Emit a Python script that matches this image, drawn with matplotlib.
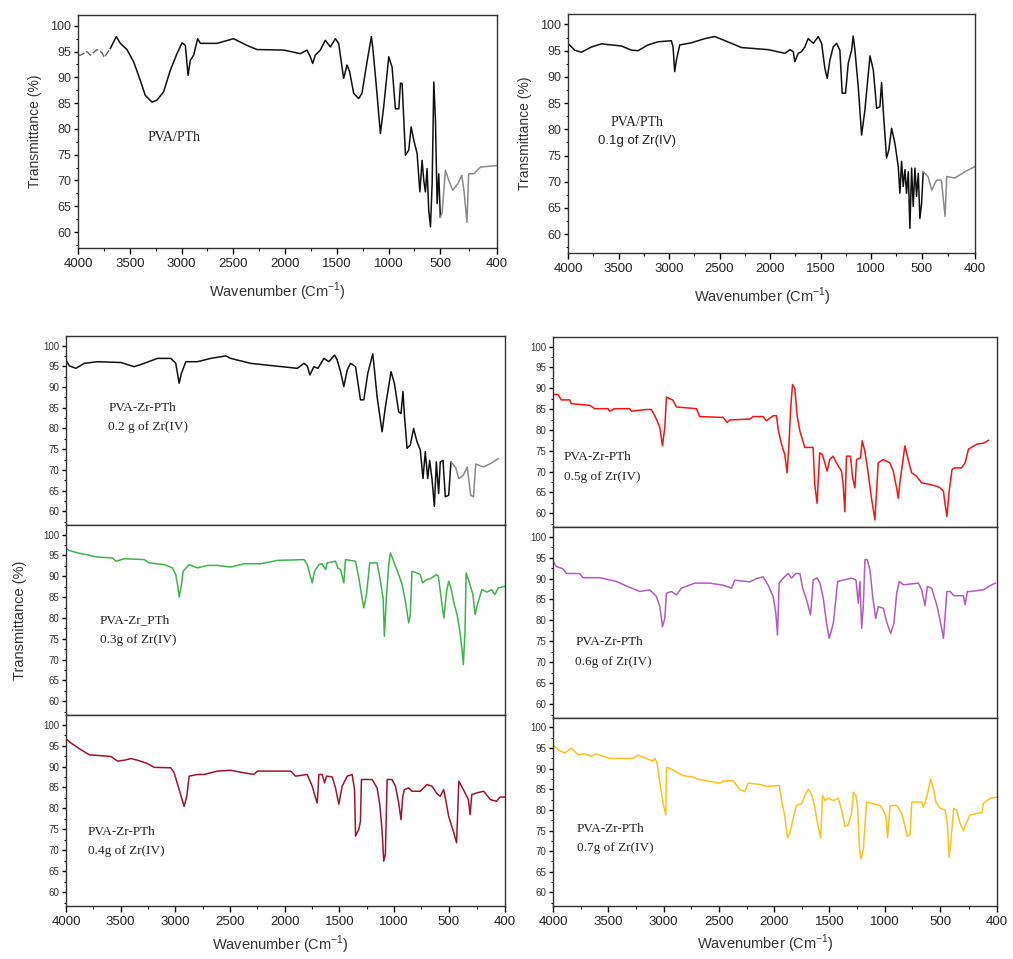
import numpy as np
import matplotlib
matplotlib.use('Agg')
import matplotlib.pyplot as plt
from matplotlib.ticker import FixedLocator, MultipleLocator

# ---- spectra (wavenumber cm-1, transmittance %) ----
pth_wn = [4000, 3977, 3913, 3881, 3817, 3768, 3746, 3688, 3630, 3591, 3527, 3462, 3398, 3350, 3285, 3237,
          3173, 3108, 3044, 2995, 2963, 2937, 2915, 2883, 2844, 2818, 2657, 2497, 2368, 2271, 2013, 1852,
          1788, 1756, 1733, 1708, 1659, 1611, 1562, 1514, 1482, 1434, 1401, 1376, 1337, 1289, 1257, 1208,
          1166, 1150, 1112, 1079, 1047, 998, 966, 934, 901, 885, 869, 837, 805, 782, 756, 724, 698, 676,
          660, 644, 628, 612, 595, 579, 563, 547, 531, 515, 500, 497, 491, 485, 478, 469, 462, 458, 453,
          450, 441, 429, 400]
pth_t = [94.3, 94.3, 95.0, 94.3, 95.4, 94.8, 93.9, 95.6, 97.9, 96.6, 95.4, 93.0, 89.4, 86.5, 85.2, 85.6,
         87.2, 91.4, 94.6, 96.7, 96.2, 90.4, 93.3, 94.3, 97.5, 96.6, 96.6, 97.5, 96.2, 95.4, 95.3, 94.6,
         95.3, 94.0, 92.7, 94.3, 95.3, 97.2, 95.9, 97.5, 96.6, 89.8, 92.4, 91.1, 86.9, 85.9, 86.9, 93.0,
         97.9, 95.3, 86.9, 79.1, 84.3, 94.0, 92.0, 83.9, 83.9, 88.9, 88.8, 74.9, 75.9, 80.4, 77.8, 75.2,
         67.8, 73.9, 70.0, 67.8, 72.3, 64.2, 61.0, 69.4, 89.1, 81.7, 65.5, 71.3, 62.9, 63.6, 72.0, 70.0,
         68.1, 69.4, 71.0, 67.8, 61.9, 71.3, 71.3, 72.6, 72.9]

zr01_wn = [4000, 3934, 3868, 3769, 3670, 3472, 3373, 3307, 3208, 3109, 2977, 2960, 2944, 2927, 2894, 2779,
           2646, 2547, 2382, 2283, 2019, 1853, 1803, 1770, 1755, 1721, 1689, 1656, 1623, 1572, 1523, 1490,
           1457, 1434, 1408, 1375, 1342, 1309, 1286, 1253, 1226, 1193, 1177, 1160, 1127, 1094, 1061, 1011,
           978, 945, 913, 896, 880, 847, 824, 797, 764, 731, 715, 698, 682, 665, 649, 632, 616, 599, 583,
           566, 550, 533, 517, 500, 497, 488, 481, 472, 463, 456, 453, 438, 419, 400]
zr01_t = [96.4, 95.1, 94.7, 95.7, 96.3, 95.9, 95.1, 95.0, 96.1, 96.7, 96.9, 95.7, 91.0, 93.2, 96.1, 96.5,
          97.3, 97.7, 96.4, 95.6, 95.2, 94.5, 95.2, 94.8, 92.9, 94.5, 94.8, 95.7, 97.3, 96.4, 97.7, 96.4,
          91.6, 89.7, 93.2, 95.7, 96.4, 95.1, 86.9, 86.9, 92.6, 95.1, 97.8, 95.1, 88.1, 78.9, 83.7, 94.0,
          91.3, 84.0, 84.3, 88.9, 83.7, 74.5, 76.1, 80.2, 77.3, 72.9, 67.8, 73.9, 69.1, 72.3, 67.8, 71.9,
          61.1, 72.6, 65.3, 72.6, 67.2, 71.6, 63.0, 65.9, 71.9, 71.0, 68.4, 70.3, 70.3, 63.4, 71.0, 70.7,
          71.9, 72.9]

zr02_wn = [4000, 3970, 3909, 3833, 3711, 3498, 3376, 3285, 3163, 3041, 2996, 2965, 2944, 2904, 2798, 2676,
           2539, 2494, 2311, 1885, 1824, 1794, 1769, 1733, 1696, 1641, 1596, 1544, 1520, 1489, 1459, 1428,
           1398, 1352, 1307, 1276, 1240, 1194, 1179, 1155, 1109, 1079, 1027, 997, 957, 936, 918, 906, 881,
           851, 821, 790, 760, 735, 714, 692, 674, 653, 631, 613, 592, 577, 552, 531, 500, 496, 488, 482,
           474, 467, 461, 456, 452, 438, 426, 412]
zr02_t = [96.5, 95.1, 94.5, 95.7, 96.1, 95.9, 94.9, 95.7, 96.9, 96.9, 95.7, 90.9, 93.3, 96.1, 96.1, 96.9,
          97.5, 96.9, 95.7, 94.5, 95.7, 95.1, 92.9, 94.9, 94.5, 96.9, 96.1, 97.7, 96.5, 93.7, 90.1, 94.1,
          95.7, 94.9, 86.9, 86.9, 93.3, 98.0, 94.1, 87.7, 79.2, 85.2, 93.7, 90.9, 84.0, 83.6, 88.9, 83.6,
          75.2, 76.0, 80.0, 76.8, 74.8, 67.9, 74.4, 67.9, 72.3, 67.9, 61.2, 71.9, 64.3, 71.9, 72.3, 63.5,
          63.9, 71.9, 70.7, 67.9, 68.7, 70.7, 63.9, 63.5, 71.4, 70.7, 71.5, 72.7]

zr03_wn = [4000, 3970, 3893, 3817, 3711, 3574, 3543, 3467, 3285, 3239, 3102, 3026, 2996, 2980, 2965, 2944,
           2929, 2874, 2798, 2707, 2615, 2494, 2372, 2220, 2067, 1824, 1794, 1769, 1748, 1727, 1687, 1657,
           1626, 1611, 1535, 1514, 1489, 1459, 1444, 1352, 1322, 1292, 1276, 1252, 1222, 1155, 1124, 1100,
           1088, 1070, 1048, 1033, 1003, 957, 926, 896, 866, 851, 836, 790, 760, 738, 702, 671, 610, 595,
           565, 544, 519, 500, 496, 490, 485, 481, 476, 474, 471, 469, 463, 457, 453, 449, 441, 432, 424,
           418, 412, 400]
zr03_t = [96.6, 96.2, 95.6, 95.2, 94.6, 94.4, 93.6, 94.2, 94.0, 93.2, 92.8, 92.0, 90.4, 88.0, 85.0, 88.0,
          91.2, 92.8, 92.0, 92.6, 92.6, 92.2, 93.0, 93.0, 93.8, 94.0, 92.8, 90.4, 88.4, 91.2, 92.8, 93.0,
          91.6, 93.2, 93.6, 92.0, 91.6, 88.4, 94.0, 93.6, 89.6, 84.8, 82.4, 85.6, 93.2, 93.2, 88.8, 84.8,
          75.6, 84.8, 92.8, 95.6, 93.6, 90.4, 88.0, 84.0, 78.8, 80.8, 91.2, 90.8, 90.4, 88.4, 89.2, 89.4,
          90.4, 90.0, 84.0, 80.0, 86.4, 88.8, 87.2, 83.2, 80.8, 77.6, 72.0, 68.8, 76.8, 90.8, 88.4, 85.6,
          80.8, 83.2, 86.8, 86.2, 86.8, 85.6, 87.2, 87.6]

zr04_wn = [4000, 3954, 3863, 3787, 3589, 3528, 3467, 3407, 3346, 3254, 3194, 3041, 3011, 2965, 2920, 2895,
           2874, 2798, 2737, 2615, 2494, 2372, 2281, 2250, 1946, 1900, 1794, 1748, 1718, 1702, 1687, 1657,
           1635, 1617, 1565, 1535, 1505, 1474, 1428, 1383, 1361, 1352, 1322, 1307, 1298, 1200, 1155, 1130,
           1109, 1094, 1079, 1063, 1018, 987, 957, 936, 920, 905, 866, 836, 760, 699, 653, 607, 577, 546,
           522, 500, 491, 486, 482, 474, 465, 462, 459, 450, 438, 426, 415, 409, 400]
zr04_t = [96.6, 95.6, 94.0, 92.8, 92.4, 91.3, 91.5, 91.9, 91.5, 90.7, 89.8, 89.7, 88.5, 84.5, 80.5, 82.9,
          87.7, 88.1, 88.1, 88.9, 89.1, 88.5, 88.1, 88.9, 88.9, 87.7, 88.1, 85.3, 82.5, 81.3, 88.1, 88.1,
          86.1, 87.7, 87.5, 84.9, 81.0, 85.3, 87.7, 88.1, 84.5, 73.4, 75.0, 77.0, 86.9, 86.9, 84.9, 80.9,
          74.6, 67.4, 69.0, 86.9, 86.9, 85.3, 81.3, 77.3, 82.9, 84.5, 84.9, 84.1, 84.1, 85.7, 85.3, 83.5,
          82.9, 84.5, 81.3, 78.1, 74.2, 71.8, 86.5, 84.5, 82.1, 78.5, 83.3, 83.7, 84.1, 82.1, 81.7, 82.7,
          82.7]

zr05_wn = [4000, 3955, 3925, 3849, 3834, 3668, 3623, 3502, 3487, 3442, 3306, 3291, 3155, 3110, 3065, 3034,
           3010, 2989, 2974, 2914, 2884, 2703, 2673, 2462, 2426, 2402, 2220, 2190, 2100, 2070, 2009, 1979,
           1964, 1934, 1904, 1883, 1868, 1850, 1834, 1813, 1792, 1768, 1723, 1648, 1633, 1612, 1588, 1564,
           1542, 1521, 1497, 1467, 1437, 1391, 1376, 1361, 1346, 1310, 1292, 1270, 1255, 1219, 1204, 1180,
           1150, 1120, 1089, 1059, 1014, 954, 923, 893, 878, 863, 818, 788, 757, 712, 667, 607, 531, 500,
           494, 491, 488, 484, 479, 474, 462, 456, 450, 435, 424, 415]
zr05_t = [88.5, 88.5, 87.2, 87.2, 86.3, 85.9, 85.1, 85.1, 84.5, 85.1, 85.1, 84.5, 84.9, 84.9, 82.6, 80.6,
          76.2, 80.6, 87.9, 87.1, 85.5, 85.1, 83.2, 83.0, 81.8, 82.4, 82.6, 83.2, 83.2, 82.2, 83.4, 83.4,
          80.2, 76.6, 74.1, 69.7, 75.8, 85.5, 90.9, 89.9, 83.4, 79.8, 75.8, 75.8, 66.9, 62.4, 74.5, 74.1,
          72.1, 70.1, 72.9, 73.7, 72.1, 70.1, 66.9, 60.4, 73.7, 73.7, 68.7, 66.1, 72.9, 73.3, 77.4, 74.9,
          69.7, 63.6, 58.4, 72.1, 72.9, 72.1, 70.1, 66.1, 63.6, 67.3, 76.2, 72.9, 69.7, 68.9, 67.3, 67.0,
          66.5, 66.1, 65.3, 62.0, 59.2, 65.3, 70.5, 70.9, 70.9, 72.1, 75.4, 76.6, 76.8, 77.5]

zr06_wn = [4000, 3970, 3910, 3879, 3759, 3729, 3578, 3427, 3352, 3216, 3125, 3065, 3034, 3010, 2989, 2974,
           2929, 2884, 2838, 2718, 2582, 2462, 2386, 2356, 2220, 2160, 2099, 2054, 2009, 1985, 1970, 1955,
           1918, 1873, 1843, 1803, 1767, 1743, 1707, 1671, 1647, 1610, 1586, 1556, 1526, 1502, 1465, 1426,
           1299, 1260, 1239, 1224, 1209, 1194, 1179, 1158, 1134, 1109, 1082, 1058, 1013, 983, 947, 917,
           892, 868, 832, 696, 666, 636, 615, 576, 530, 500, 494, 488, 482, 476, 459, 456, 452, 447, 424,
           409, 403]
zr06_t = [94.1, 92.9, 92.3, 91.2, 91.2, 90.2, 90.2, 89.3, 88.4, 86.9, 87.3, 85.7, 83.3, 78.5, 80.5, 86.5,
          86.9, 86.1, 87.7, 88.9, 88.9, 88.4, 87.7, 89.6, 89.2, 90.0, 90.4, 88.4, 85.7, 81.7, 76.5, 88.9,
          90.1, 91.2, 90.1, 91.2, 91.2, 87.7, 84.9, 81.3, 89.7, 90.1, 88.9, 85.3, 79.3, 75.7, 79.3, 89.3,
          90.1, 89.6, 84.1, 89.3, 78.1, 83.3, 94.5, 94.5, 92.1, 85.7, 80.5, 83.3, 82.9, 79.7, 76.9, 79.3,
          86.5, 89.3, 88.5, 88.9, 87.3, 83.5, 88.1, 87.7, 83.7, 80.1, 75.7, 86.9, 86.9, 85.9, 85.9, 83.7,
          86.9, 86.9, 87.3, 88.5, 88.9]

zr07_wn = [4000, 3955, 3894, 3834, 3774, 3713, 3653, 3608, 3487, 3276, 3231, 3095, 3080, 3059, 3034, 3004,
           2980, 2974, 2944, 2823, 2718, 2702, 2491, 2461, 2371, 2310, 2265, 2235, 2129, 2069, 1954, 1933,
           1903, 1879, 1858, 1828, 1798, 1752, 1722, 1692, 1662, 1632, 1601, 1580, 1562, 1541, 1511, 1465,
           1420, 1390, 1360, 1330, 1300, 1284, 1260, 1245, 1230, 1215, 1194, 1164, 1103, 1043, 1013, 989,
           974, 952, 892, 847, 817, 796, 771, 756, 666, 651, 621, 584, 560, 536, 500, 491, 487, 484, 482,
           476, 471, 465, 459, 453, 447, 426, 424, 412, 400]
zr07_t = [95.8, 94.6, 93.8, 95.0, 93.4, 93.6, 93.0, 93.6, 92.5, 92.5, 93.3, 91.8, 92.5, 91.4, 86.7, 81.5,
          78.8, 90.3, 90.1, 88.3, 87.9, 87.5, 86.5, 87.0, 87.1, 84.9, 84.5, 86.5, 86.2, 85.7, 85.9, 82.3,
          78.4, 73.2, 74.4, 77.9, 81.1, 81.5, 83.5, 85.0, 83.8, 80.6, 75.8, 73.2, 83.5, 82.3, 82.8, 82.3,
          82.8, 80.0, 76.0, 76.4, 79.2, 84.3, 83.5, 80.7, 71.2, 68.1, 70.4, 81.9, 81.5, 81.1, 79.9, 78.4,
          73.2, 81.1, 81.1, 79.2, 76.0, 73.6, 74.0, 81.9, 81.9, 80.7, 83.0, 87.5, 85.1, 81.9, 80.4, 80.0,
          76.4, 68.5, 70.9, 80.4, 80.0, 76.8, 74.9, 77.2, 78.8, 79.4, 81.6, 82.8, 83.1]

x_ticks = [4000, 3500, 3000, 2500, 2000, 1500, 1000, 500, 400]
x_minor = [3750, 3250, 2750, 2250, 1750, 1250, 750, 450]
y_ticks = [60, 65, 70, 75, 80, 85, 90, 95, 100]

SANS = 'Liberation Sans'
SERIF = 'Liberation Serif'
XLABEL = 'Wavenumber (Cm$^{\\mathregular{-1}}$)'


def wn_axis(ax, tail, labels=True, size=9):
    # stretched 500-400 segment like the original instrument plot
    def fwd(x):
        x = np.asarray(x, dtype=float)
        return np.where(x >= 500, tail + (x - 500) / 500.0, (x - 400) / 100.0 * tail)

    def inv(p):
        p = np.asarray(p, dtype=float)
        return np.where(p >= tail, 500 + (p - tail) * 500.0, 400 + p / tail * 100.0)

    ax.set_xscale('function', functions=(fwd, inv))
    ax.set_xlim(4000, 400)
    ax.xaxis.set_major_locator(FixedLocator(x_ticks))
    ax.xaxis.set_minor_locator(FixedLocator(x_minor))
    if labels:
        ax.set_xticklabels([str(v) for v in x_ticks], fontsize=size, family=SANS, color='#222222')
        ax.tick_params(axis='x', which='major', direction='out', length=4, width=1, pad=3)
        ax.tick_params(axis='x', which='minor', direction='out', length=2.5, width=0.8)
    else:
        ax.tick_params(axis='x', which='both', length=0, labelbottom=False)


def t_axis(ax, lo, hi, size):
    ax.set_ylim(lo, hi)
    ax.yaxis.set_major_locator(FixedLocator(y_ticks))
    ax.yaxis.set_minor_locator(MultipleLocator(2.5))
    ax.set_yticklabels([str(v) for v in y_ticks], fontsize=size, family=SANS, color='#333333')
    ax.tick_params(axis='y', which='major', direction='out', length=3, width=1, pad=2)
    ax.tick_params(axis='y', which='minor', direction='out', length=1.8, width=0.8)
    for s in ax.spines.values():
        s.set_linewidth(1.0)
        s.set_color('#333333')


def draw(ax, wn, t, color, cut=None, tail_color=None, head=None, head_color=None):
    wn = np.array(wn)
    t = np.array(t)
    lo = cut if cut is not None else -1
    hi = head if head is not None else 1e9
    m = (wn >= lo) & (wn <= hi)
    ax.plot(wn[m], t[m], color=color, lw=1.1)
    if cut is not None:
        m = wn <= cut
        ax.plot(wn[m], t[m], color=tail_color, lw=1.1)
    if head is not None:
        m = wn >= head
        ax.plot(wn[m], t[m], color=head_color, lw=1.0, ls=(0, (5, 1.5)))


W, H = 1013, 959
fig = plt.figure(figsize=(W / 100, H / 100), dpi=100)


def box(l, t, r, b):
    return [l / W, 1 - b / H, (r - l) / W, (b - t) / H]


# top-left: PVA/PTh
ax1 = fig.add_axes(box(78, 15, 497, 248))
draw(ax1, pth_wn, pth_t, '#111111', cut=500, tail_color='#8a8a8a', head=3688, head_color='#666666')
wn_axis(ax1, 1.095, size=9.5)
t_axis(ax1, 56.9, 102.1, 9)
ax1.set_ylabel('Transmittance (%)', family=SANS, fontsize=10, color='#333333', labelpad=6)
ax1.text(0.165, 0.476, 'PVA/PTh', transform=ax1.transAxes, family=SERIF, fontsize=10,
         va='center', ha='left', color='#222222')
fig.text(277 / W, 1 - 292 / H, XLABEL, family=SANS,
         fontsize=10.5, ha='center', va='center', color='#333333')

# top-right: 0.1 g Zr(IV)
ax2 = fig.add_axes(box(568, 14, 975, 253))
draw(ax2, zr01_wn, zr01_t, '#111111', cut=497, tail_color='#8a8a8a')
wn_axis(ax2, 1.057, size=9.5)
t_axis(ax2, 56.4, 102.0, 9)
ax2.set_ylabel('Transmittance (%)', family=SANS, fontsize=10, color='#333333', labelpad=6)
ax2.text(0.17, 0.544, 'PVA/PTh', transform=ax2.transAxes, family=SERIF, fontsize=10,
         va='center', ha='center', color='#222222')
ax2.text(0.17, 0.469, '0.1g of Zr(IV)', transform=ax2.transAxes, family=SANS, fontsize=9.5,
         va='center', ha='center', color='#222222')
fig.text(762 / W, 1 - 297 / H, XLABEL, family=SANS,
         fontsize=10.5, ha='center', va='center', color='#333333')

# lower stacks
lower = [
    (box(66, 336, 505, 525), zr02_wn, zr02_t, '#111111', '0.2 g of Zr(IV)', 'PVA-Zr-PTh', 0.096, 0.619, False),
    (box(66, 525, 505, 715), zr03_wn, zr03_t, '#3cb54a', '0.3g of Zr(IV)', 'PVA-Zr_PTh', 0.077, 0.50, False),
    (box(66, 715, 505, 906), zr04_wn, zr04_t, '#a3142a', '0.4g of Zr(IV)', 'PVA-Zr-PTh', 0.05, 0.39, True),
    (box(553, 337, 997, 527), zr05_wn, zr05_t, '#ff1010', '0.5g of Zr(IV)', 'PVA-Zr-PTh', 0.025, 0.368, False),
    (box(553, 527, 997, 718), zr06_wn, zr06_t, '#b15cc0', '0.6g of Zr(IV)', 'PVA-Zr-PTh', 0.05, 0.398, False),
    (box(553, 718, 997, 906), zr07_wn, zr07_t, '#ffc21a', '0.7g of Zr(IV)', 'PVA-Zr-PTh', 0.054, 0.41, True),
]

for rect, wn, t, col, amount, name, tx, ty, bottom in lower:
    ax = fig.add_axes(rect)
    if col == '#111111':
        draw(ax, wn, t, col, cut=496, tail_color='#8a8a8a')
    else:
        draw(ax, wn, t, col)
    wn_axis(ax, 1.03, labels=bottom, size=9.5)
    t_axis(ax, 56.7, 102.3, 7)
    ax.text(tx, ty, name, transform=ax.transAxes, family=SERIF, fontsize=9.5,
            va='center', ha='left', color='#222222')
    ax.text(tx, ty - 0.103, amount, transform=ax.transAxes, family=SERIF, fontsize=9.5,
            va='center', ha='left', color='#222222')

fig.text(20 / W, 1 - 620 / H, 'Transmittance (%)', family=SANS, fontsize=10.5,
         rotation=90, ha='center', va='center', color='#333333')
fig.text(280 / W, 1 - 945 / H, XLABEL, family=SANS,
         fontsize=10.5, ha='center', va='center', color='#333333')
fig.text(765 / W, 1 - 944 / H, XLABEL, family=SANS,
         fontsize=10.5, ha='center', va='center', color='#333333')

fig.savefig('out.png', dpi=100)
